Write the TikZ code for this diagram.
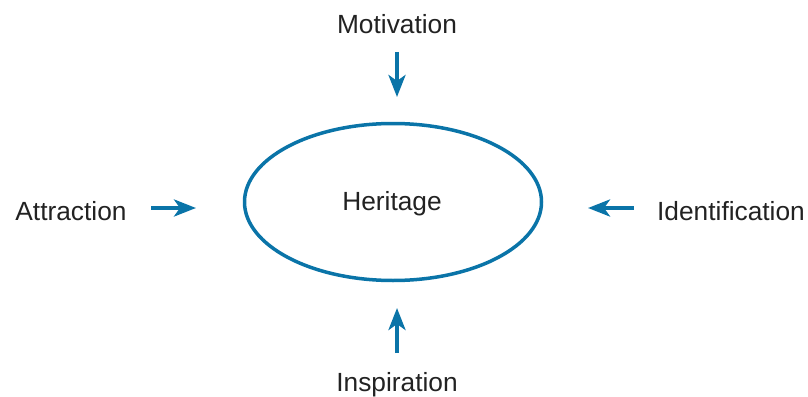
\documentclass[tikz,border=0pt]{standalone}
\usepackage{fontspec}
\setmainfont{Liberation Sans}
\usetikzlibrary{arrows.meta,shapes.geometric}
\definecolor{hblue}{HTML}{0A74A8}
\definecolor{txt}{HTML}{222222}
\tikzset{
  lbl/.style={font=\fontsize{26.3}{30}\selectfont, text=txt, inner sep=0pt},
  arr/.style={draw=hblue, line width=4pt, -{Stealth[length=22pt,width=17pt,inset=6pt]}},
}
\begin{document}
\begin{tikzpicture}[x=1pt,y=-1pt]
\useasboundingbox (0,0) rectangle (808,396);
\node[draw=hblue, line width=3.5pt, ellipse, minimum width=297pt, minimum height=157pt, inner sep=0pt] (her) at (393,202) {};
\node[lbl] (hert) at (392,204) {Heritage};
\node[lbl] (mot) at (397,24) {Motivation};
\node[lbl] (ins) at (397,385) {Inspiration};
\node[lbl] (att) at (71,211) {Attraction};
\node[lbl] (ide) at (731,211) {Identification};
\coordinate (m1) at (397,52); \coordinate (m2) at (397,97);
\coordinate (i1) at (397,353); \coordinate (i2) at (397,308);
\coordinate (a1) at (151,208); \coordinate (a2) at (196,208);
\coordinate (d1) at (634,208); \coordinate (d2) at (588,208);
\draw[arr] (m1) -- (m2);
\draw[arr] (i1) -- (i2);
\draw[arr] (a1) -- (a2);
\draw[arr] (d1) -- (d2);
\end{tikzpicture}
\end{document}
